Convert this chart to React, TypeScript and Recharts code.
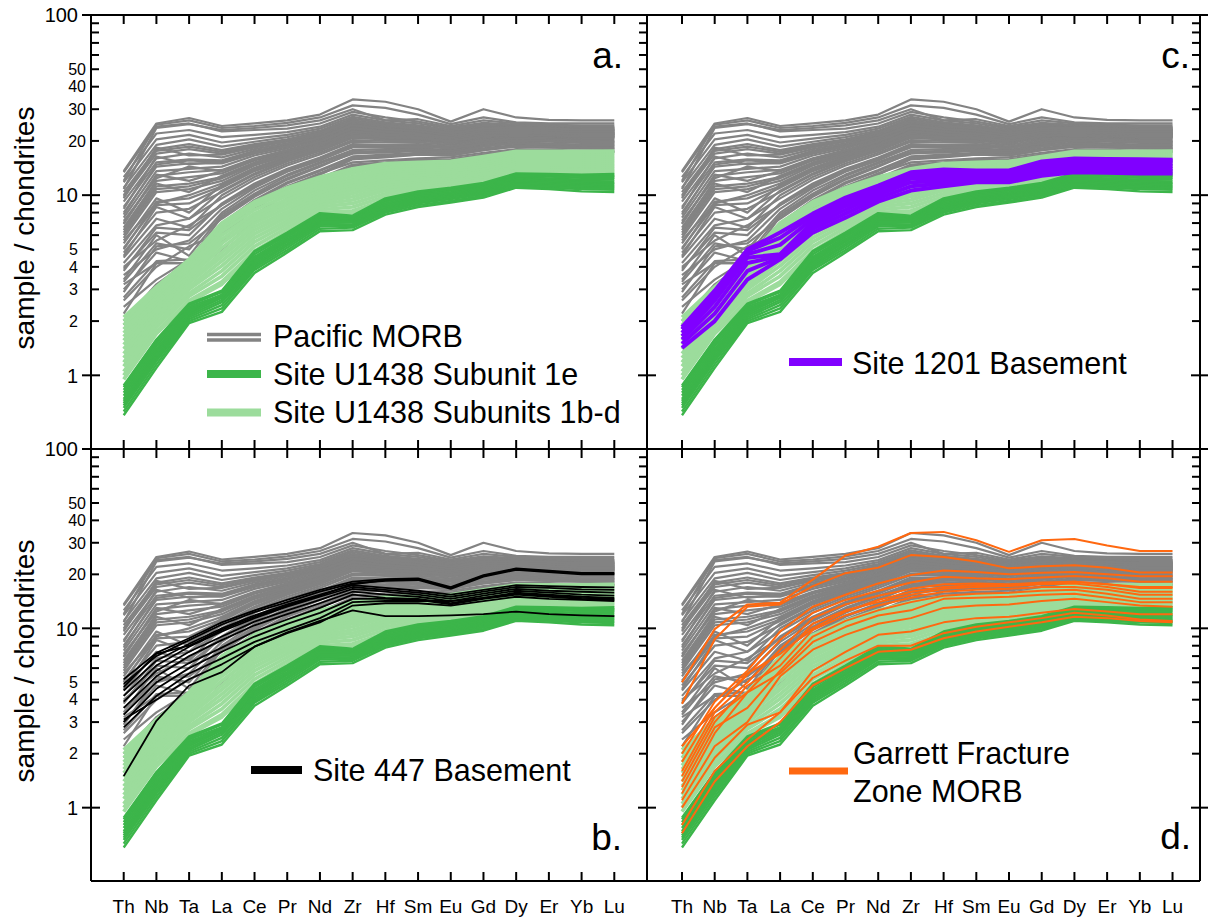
import React from 'react';
import { LineChart, Line, XAxis, YAxis } from 'recharts';

// Element order on the x axis (chondrite-normalised spider diagram)
const ELEMENTS = ['Th', 'Nb', 'Ta', 'La', 'Ce', 'Pr', 'Nd', 'Zr', 'Hf', 'Sm', 'Eu', 'Gd', 'Dy', 'Er', 'Yb', 'Lu'];
const X_TICKS = [1, 2, 3, 4, 5, 6, 7, 8, 9, 10, 11, 12, 13, 14, 15, 16];
const Y_TICKS = [1, 2, 3, 4, 5, 6, 7, 8, 9, 10, 20, 30, 40, 50, 60, 70, 80, 90, 100];
const Y_LABELS = [1, 2, 3, 4, 5, 10, 20, 30, 40, 50, 100];
const Y_MAJOR = [1, 10, 100];
const Y_DOMAIN: [number, number] = [0.39, 100];

// Pacific MORB (sample / chondrite), one row per sample, columns follow ELEMENTS
const PACIFIC_MORB: number[][] = [
  [1.9, 3.0, 3.6, 5.0, 7.2, 9.6, 12.0, 14.5, 15.0, 15.6, 15.8, 16.8, 17.6, 17.5, 17.4, 17.4],
  [2.2, 4.2, 4.2, 6.6, 9.0, 11.2, 13.2, 15.2, 15.6, 16.0, 16.2, 17.2, 18.0, 17.9, 17.6, 17.6],
  [2.4, 3.4, 4.4, 6.0, 8.4, 10.8, 13.0, 15.8, 16.2, 16.8, 16.6, 17.8, 18.6, 18.4, 18.2, 18.0],
  [2.7, 4.3, 4.4, 7.0, 9.4, 11.8, 13.8, 16.4, 16.8, 17.2, 17.0, 18.2, 19.0, 18.8, 18.6, 18.5],
  [3.0, 4.8, 4.3, 7.6, 10.0, 12.4, 14.6, 17.0, 17.4, 17.8, 17.4, 18.8, 19.5, 19.2, 19.0, 18.9],
  [3.3, 5.4, 5.0, 8.0, 10.6, 13.0, 15.2, 17.8, 18.0, 18.2, 17.8, 19.2, 20.0, 19.8, 19.5, 19.3],
  [3.6, 5.0, 5.6, 8.4, 11.0, 13.5, 15.6, 18.6, 18.6, 18.8, 18.4, 19.6, 20.4, 20.2, 19.8, 19.7],
  [3.9, 6.2, 6.0, 9.0, 11.6, 14.0, 16.2, 19.2, 19.0, 19.2, 18.6, 20.0, 20.6, 20.4, 20.0, 20.0],
  [4.2, 6.8, 7.4, 9.6, 12.2, 14.6, 16.8, 19.8, 19.6, 19.6, 19.0, 20.4, 21.0, 20.8, 20.4, 20.3],
  [4.5, 7.4, 6.6, 10.0, 12.6, 15.0, 17.2, 20.2, 20.0, 20.0, 19.4, 20.8, 21.2, 21.0, 20.6, 20.6],
  [4.8, 8.0, 8.4, 10.4, 13.0, 15.4, 17.6, 20.8, 20.4, 20.4, 19.6, 21.0, 21.4, 21.2, 20.8, 20.8],
  [5.1, 8.8, 9.0, 11.0, 13.6, 15.8, 18.0, 21.2, 20.8, 20.6, 19.8, 21.2, 21.6, 21.4, 21.0, 21.0],
  [5.4, 9.6, 8.0, 11.4, 14.0, 16.2, 18.4, 21.8, 21.2, 21.0, 20.2, 21.6, 21.8, 21.6, 21.2, 21.2],
  [5.8, 10.4, 10.8, 12.0, 14.6, 16.6, 18.8, 22.4, 21.6, 21.4, 20.4, 21.8, 22.0, 21.8, 21.4, 21.4],
  [6.2, 11.2, 11.6, 12.6, 15.0, 17.0, 19.2, 22.8, 22.0, 21.6, 20.6, 22.0, 22.2, 22.0, 21.6, 21.6],
  [6.6, 12.0, 12.6, 13.2, 15.6, 17.4, 19.6, 23.2, 22.2, 21.8, 20.8, 22.2, 22.4, 22.2, 21.8, 21.8],
  [7.0, 12.8, 13.4, 13.8, 16.0, 17.8, 20.0, 23.6, 22.6, 22.0, 21.0, 22.4, 22.6, 22.4, 22.0, 22.0],
  [7.5, 13.6, 14.0, 14.4, 16.6, 18.2, 20.4, 24.0, 22.8, 22.2, 21.2, 22.6, 22.8, 22.6, 22.2, 22.2],
  [8.0, 14.4, 15.0, 15.0, 17.0, 18.6, 20.8, 24.4, 23.2, 22.6, 21.4, 22.8, 23.0, 22.8, 22.4, 22.4],
  [8.6, 15.2, 15.8, 15.6, 17.6, 19.0, 21.2, 24.8, 23.4, 22.8, 21.6, 23.0, 23.2, 23.0, 22.6, 22.6],
  [9.2, 16.0, 17.0, 16.2, 18.0, 19.4, 21.6, 25.2, 23.8, 23.0, 21.8, 23.2, 23.4, 23.2, 22.8, 22.8],
  [9.8, 17.0, 18.0, 17.0, 18.6, 20.0, 22.0, 25.6, 24.2, 23.2, 22.0, 23.4, 23.6, 23.4, 23.0, 23.0],
  [10.4, 18.0, 19.2, 17.8, 19.2, 20.4, 22.4, 26.0, 24.6, 23.6, 22.2, 23.6, 23.8, 23.6, 23.2, 23.2],
  [11.0, 19.0, 20.4, 18.6, 19.8, 21.0, 22.8, 26.6, 25.0, 24.0, 22.6, 24.0, 24.0, 23.8, 23.4, 23.4],
  [11.8, 20.4, 21.6, 19.6, 20.6, 21.6, 23.4, 27.2, 25.4, 24.4, 23.0, 24.4, 24.2, 24.0, 23.6, 23.6],
  [12.6, 22.0, 23.0, 21.0, 21.6, 22.4, 24.0, 28.0, 26.0, 25.0, 23.4, 24.8, 24.4, 24.2, 23.8, 23.8],
  [13.4, 24.0, 25.0, 22.6, 23.0, 23.4, 25.0, 29.0, 27.0, 25.6, 23.8, 25.2, 24.6, 24.4, 24.0, 24.0],
  [13.6, 25.0, 26.8, 24.2, 25.0, 26.0, 28.0, 34.0, 33.0, 30.0, 25.6, 30.0, 27.0, 26.2, 26.0, 26.0],
  [12.0, 24.6, 26.0, 23.6, 24.2, 25.2, 27.0, 31.5, 30.5, 28.0, 24.8, 27.0, 25.4, 25.0, 25.0, 25.0],
  [10.8, 23.6, 24.8, 23.0, 23.6, 24.4, 26.0, 30.0, 26.0, 26.4, 24.2, 26.0, 25.0, 24.6, 24.4, 24.4],
  [2.6, 4.0, 5.2, 6.2, 8.8, 11.0, 13.2, 16.0, 16.4, 16.8, 16.6, 17.8, 18.6, 18.4, 18.2, 18.2],
  [3.4, 6.0, 4.6, 7.8, 10.2, 12.8, 15.0, 17.4, 17.6, 18.0, 17.6, 18.8, 19.6, 19.4, 19.0, 19.0],
  [4.0, 5.6, 6.8, 8.8, 11.4, 13.8, 16.0, 18.8, 18.8, 19.0, 18.6, 19.8, 20.6, 20.4, 20.0, 19.9],
  [4.6, 8.6, 7.4, 10.6, 13.2, 15.6, 17.8, 21.0, 20.6, 20.6, 19.8, 21.2, 21.6, 21.4, 21.0, 21.0],
  [5.6, 9.0, 10.0, 11.6, 14.2, 16.4, 18.6, 22.0, 21.4, 21.2, 20.4, 21.8, 22.0, 21.8, 21.4, 21.4],
  [6.4, 11.6, 10.4, 12.8, 15.2, 17.2, 19.4, 22.6, 22.0, 21.8, 20.8, 22.2, 22.4, 22.2, 21.8, 21.8],
  [7.2, 12.4, 14.4, 13.6, 15.8, 17.6, 19.8, 23.4, 22.4, 22.0, 21.0, 22.4, 22.6, 22.4, 22.0, 22.0],
  [8.4, 16.4, 14.8, 15.4, 17.4, 18.8, 21.0, 24.6, 23.2, 22.6, 21.4, 22.8, 23.0, 22.8, 22.4, 22.4],
  [9.6, 18.4, 16.6, 16.8, 18.4, 19.8, 21.8, 25.4, 24.0, 23.2, 22.0, 23.4, 23.6, 23.4, 23.0, 23.0],
  [2.0, 3.2, 4.3, 5.6, 7.8, 10.2, 12.4, 14.8, 15.2, 15.8, 15.6, 16.8, 17.6, 17.5, 17.4, 17.4],
  [2.9, 5.2, 5.4, 7.4, 9.8, 12.2, 14.4, 17.2, 17.2, 17.6, 17.2, 18.6, 19.4, 19.1, 18.8, 18.8],
  [3.8, 6.6, 6.4, 8.8, 11.2, 13.6, 15.8, 18.4, 18.4, 18.6, 18.2, 19.4, 20.2, 20.0, 19.6, 19.5],
  [5.0, 9.2, 9.6, 11.2, 13.8, 16.0, 18.2, 21.4, 21.0, 20.8, 20.0, 21.4, 21.7, 21.5, 21.1, 21.1],
  [6.0, 10.8, 11.2, 12.4, 14.8, 16.8, 19.0, 22.6, 21.8, 21.5, 20.5, 21.9, 22.1, 21.9, 21.5, 21.5],
  [6.9, 13.0, 12.0, 13.6, 15.9, 17.7, 19.9, 23.5, 22.5, 21.9, 20.9, 22.3, 22.5, 22.3, 21.9, 21.9],
  [7.8, 14.8, 15.6, 15.2, 17.2, 18.7, 20.9, 24.5, 23.3, 22.7, 21.5, 22.9, 23.1, 22.9, 22.5, 22.5],
  [10.0, 17.6, 18.6, 17.4, 18.9, 20.2, 22.2, 25.8, 24.4, 23.4, 22.1, 23.5, 23.7, 23.5, 23.1, 23.1],
  [3.2, 4.2, 4.2, 6.4, 9.2, 11.6, 13.6, 16.2, 16.6, 17.0, 16.8, 18.0, 18.8, 18.6, 18.4, 18.3],
];

// Site U1438 Subunits 1b-d
const U1438_SUBUNITS_1BD: number[][] = [
  [1.00, 1.75, 2.60, 3.30, 4.90, 6.30, 8.00, 8.20, 9.40, 10.3, 10.8, 11.5, 12.9, 12.9, 12.7, 12.7],
  [1.05, 1.85, 2.75, 3.55, 5.20, 6.60, 8.30, 8.60, 9.80, 10.6, 11.1, 11.8, 13.2, 13.2, 13.0, 13.0],
  [1.12, 1.95, 2.85, 3.80, 5.50, 6.90, 8.60, 9.00, 10.2, 10.9, 11.4, 12.1, 13.5, 13.5, 13.3, 13.4],
  [1.18, 2.05, 3.00, 4.05, 5.80, 7.20, 8.90, 9.40, 10.6, 11.3, 11.7, 12.4, 13.8, 13.8, 13.6, 13.7],
  [1.25, 2.10, 3.10, 4.30, 6.10, 7.50, 9.20, 9.80, 11.0, 11.6, 12.0, 12.7, 14.1, 14.1, 14.0, 14.0],
  [1.32, 2.20, 3.25, 4.55, 6.40, 7.80, 9.50, 10.2, 11.4, 12.0, 12.3, 13.0, 14.4, 14.4, 14.3, 14.4],
  [1.40, 2.30, 3.35, 4.80, 6.70, 8.10, 9.80, 10.6, 11.8, 12.3, 12.6, 13.3, 14.7, 14.7, 14.6, 14.7],
  [1.48, 2.40, 3.50, 5.10, 7.00, 8.45, 10.1, 11.0, 12.2, 12.7, 12.9, 13.7, 15.0, 15.0, 15.0, 15.1],
  [1.56, 2.50, 3.60, 5.40, 7.30, 8.80, 10.4, 11.4, 12.6, 13.0, 13.3, 14.1, 15.4, 15.4, 15.4, 15.5],
  [1.64, 2.60, 3.75, 5.70, 7.60, 9.15, 10.8, 11.8, 13.0, 13.4, 13.6, 14.5, 15.8, 15.8, 15.8, 15.9],
  [1.72, 2.70, 3.90, 6.00, 7.90, 9.50, 11.1, 12.2, 13.4, 13.8, 14.0, 14.9, 16.2, 16.2, 16.2, 16.3],
  [1.80, 2.80, 4.00, 6.30, 8.30, 9.90, 11.5, 12.7, 13.8, 14.2, 14.4, 15.3, 16.6, 16.6, 16.6, 16.7],
  [1.90, 2.90, 4.15, 6.60, 8.70, 10.3, 11.9, 13.2, 14.3, 14.6, 14.8, 15.8, 17.0, 17.0, 17.0, 17.1],
  [2.00, 3.00, 4.30, 6.80, 9.00, 10.7, 12.3, 13.6, 14.7, 15.0, 15.2, 16.1, 17.3, 17.3, 17.3, 17.4],
  [2.10, 3.10, 4.40, 7.00, 9.20, 11.0, 12.6, 14.0, 15.0, 15.2, 15.4, 16.4, 17.5, 17.5, 17.5, 17.6],
  [0.95, 1.70, 2.55, 3.20, 4.80, 6.10, 7.80, 8.00, 9.20, 10.1, 10.6, 11.3, 12.7, 12.7, 12.6, 12.6],
];

// Site U1438 Subunit 1e
const U1438_SUBUNIT_1E: number[][] = [
  [0.60, 1.10, 1.95, 2.25, 3.70, 4.80, 6.30, 6.40, 7.80, 8.60, 9.10, 9.70, 11.0, 10.8, 10.5, 10.4],
  [0.63, 1.15, 2.00, 2.35, 3.85, 4.95, 6.50, 6.60, 8.00, 8.80, 9.30, 9.90, 11.2, 11.0, 10.8, 10.7],
  [0.66, 1.20, 2.05, 2.45, 3.95, 5.10, 6.70, 6.75, 8.15, 9.00, 9.50, 10.1, 11.4, 11.2, 11.0, 10.9],
  [0.68, 1.24, 2.10, 2.55, 4.05, 5.25, 6.85, 6.90, 8.30, 9.15, 9.65, 10.3, 11.6, 11.4, 11.2, 11.1],
  [0.70, 1.28, 2.15, 2.62, 4.15, 5.35, 7.00, 7.05, 8.45, 9.30, 9.80, 10.45, 11.8, 11.6, 11.4, 11.3],
  [0.72, 1.32, 2.20, 2.70, 4.25, 5.50, 7.15, 7.15, 8.60, 9.45, 9.95, 10.6, 12.0, 11.8, 11.6, 11.5],
  [0.74, 1.36, 2.25, 2.75, 4.35, 5.60, 7.25, 7.25, 8.70, 9.60, 10.1, 10.75, 12.2, 12.0, 11.8, 11.7],
  [0.77, 1.40, 2.30, 2.80, 4.45, 5.70, 7.40, 7.35, 8.85, 9.75, 10.25, 10.9, 12.4, 12.2, 12.0, 11.9],
  [0.80, 1.45, 2.35, 2.70, 4.55, 5.85, 7.55, 7.45, 9.00, 9.90, 10.4, 11.1, 12.6, 12.4, 12.2, 12.2],
  [0.83, 1.50, 2.40, 2.80, 4.70, 6.00, 7.70, 7.55, 9.20, 10.1, 10.6, 11.3, 12.8, 12.7, 12.5, 12.5],
  [0.86, 1.55, 2.45, 2.90, 4.85, 6.10, 7.85, 7.60, 9.40, 10.3, 10.8, 11.5, 13.0, 12.9, 12.8, 12.8],
  [0.88, 1.58, 2.50, 2.95, 4.90, 6.20, 7.95, 7.70, 9.60, 10.5, 11.0, 11.7, 13.2, 13.1, 13.0, 13.1],
];

// Site 1201 Basement
const SITE_1201: number[][] = [
  [1.42, 2.00, 3.40, 4.40, 6.20, 7.50, 9.20, 10.6, 11.2, 11.8, 11.8, 12.8, 13.4, 13.3, 13.2, 13.2],
  [1.50, 2.20, 3.80, 4.50, 6.50, 7.90, 9.60, 11.2, 11.6, 12.2, 12.2, 13.2, 13.8, 13.8, 13.7, 13.6],
  [1.58, 2.40, 4.20, 4.60, 6.80, 8.30, 10.0, 11.8, 12.0, 12.5, 12.6, 13.6, 14.3, 14.2, 14.1, 14.0],
  [1.65, 2.60, 4.50, 4.70, 7.10, 8.70, 10.4, 12.4, 12.4, 12.8, 12.9, 14.1, 14.8, 14.7, 14.6, 14.5],
  [1.72, 2.75, 4.70, 5.30, 7.40, 9.10, 10.8, 12.8, 12.9, 13.1, 13.2, 14.6, 15.3, 15.2, 15.1, 15.0],
  [1.80, 2.90, 4.90, 5.80, 7.70, 9.50, 11.1, 13.2, 13.4, 13.5, 13.5, 15.1, 15.8, 15.7, 15.6, 15.5],
  [1.85, 2.95, 5.00, 6.20, 7.90, 9.70, 11.3, 13.4, 13.9, 13.7, 13.7, 15.4, 16.0, 15.9, 15.8, 15.7],
];

// Site 447 Basement
const SITE_447: number[][] = [
  [5.2, 7.3, 8.8, 10.8, 12.6, 14.4, 16.4, 18.2, 18.8, 19.0, 17.0, 19.8, 21.6, 21.0, 20.4, 20.4],
  [4.9, 7.0, 8.6, 10.5, 12.3, 14.0, 16.0, 17.8, 18.4, 18.6, 16.6, 19.4, 21.2, 20.6, 20.0, 20.0],
  [4.5, 6.6, 8.2, 10.0, 11.8, 13.6, 15.4, 17.4, 16.8, 16.2, 15.4, 16.4, 17.4, 17.2, 17.0, 16.9],
  [4.2, 6.2, 7.9, 9.6, 11.4, 13.2, 15.0, 17.0, 16.4, 15.8, 15.0, 16.0, 17.0, 16.8, 16.5, 16.4],
  [3.9, 5.8, 7.4, 9.0, 10.9, 12.6, 14.4, 16.6, 16.0, 15.4, 14.6, 15.6, 16.6, 16.2, 16.0, 15.8],
  [3.6, 5.4, 7.0, 8.6, 10.4, 12.0, 13.8, 16.0, 15.4, 15.0, 14.2, 15.2, 16.2, 15.8, 15.4, 15.2],
  [3.3, 5.0, 6.4, 7.8, 9.6, 11.2, 13.0, 15.4, 14.8, 14.6, 13.8, 14.8, 15.6, 15.2, 14.8, 14.6],
  [3.0, 4.6, 6.0, 7.4, 9.0, 10.6, 12.2, 14.6, 14.6, 14.4, 13.6, 14.6, 15.4, 15.0, 14.6, 14.4],
  [2.8, 4.2, 5.6, 6.8, 8.4, 9.8, 11.4, 14.0, 14.2, 14.2, 14.2, 14.8, 15.8, 15.4, 15.0, 14.8],
  [3.1, 4.0, 5.2, 6.3, 7.9, 9.4, 10.8, 13.4, 13.8, 13.8, 13.4, 14.2, 15.0, 14.6, 14.4, 14.2],
  [1.5, 3.05, 4.8, 5.7, 7.9, 9.5, 11.0, 12.6, 11.7, 11.7, 11.8, 12.0, 12.4, 12.0, 11.8, 11.7],
  [4.7, 7.2, 8.0, 9.8, 11.6, 13.4, 15.2, 17.6, 18.6, 18.8, 16.8, 19.6, 21.4, 20.8, 20.2, 20.2],
];

// Garrett Fracture Zone MORB
const GARRETT_FZ: number[][] = [
  [5.0, 9.9, 13.6, 13.9, 18.7, 25.5, 28.5, 34.0, 34.5, 31.0, 26.7, 31.0, 31.5, 29.0, 27.0, 27.0],
  [3.8, 8.7, 13.2, 13.6, 17.2, 20.3, 21.8, 25.6, 25.0, 23.6, 21.6, 22.2, 22.5, 21.8, 20.5, 20.5],
  [2.0, 3.9, 5.8, 9.6, 13.2, 15.4, 17.8, 19.8, 21.0, 20.6, 20.0, 20.4, 20.6, 20.0, 19.5, 19.5],
  [1.8, 3.6, 5.5, 8.6, 12.2, 14.4, 16.2, 18.0, 19.4, 19.0, 18.8, 19.2, 19.6, 19.0, 18.2, 18.2],
  [1.6, 3.4, 5.0, 7.6, 11.4, 13.6, 15.2, 16.6, 17.6, 17.8, 17.6, 18.0, 18.2, 17.6, 16.8, 16.8],
  [1.5, 3.2, 4.4, 6.8, 10.6, 12.6, 14.0, 15.4, 16.6, 17.0, 17.2, 17.6, 17.8, 17.0, 16.0, 16.0],
  [1.4, 3.0, 4.8, 6.2, 9.8, 11.8, 13.4, 14.8, 16.0, 16.4, 16.6, 17.0, 17.0, 16.4, 15.4, 15.4],
  [1.3, 2.8, 3.6, 5.8, 9.0, 11.0, 12.6, 14.0, 15.2, 15.6, 15.8, 16.2, 16.4, 15.6, 14.6, 14.6],
  [1.2, 2.6, 4.4, 5.6, 8.4, 10.2, 11.8, 12.6, 14.6, 14.8, 15.0, 15.4, 15.6, 14.8, 14.0, 14.0],
  [1.1, 2.2, 3.0, 5.4, 7.6, 9.2, 10.6, 11.4, 13.0, 13.4, 13.6, 14.2, 14.6, 14.0, 13.4, 13.2],
  [1.0, 1.9, 2.9, 3.4, 5.8, 7.4, 9.2, 9.6, 10.8, 11.4, 11.6, 12.2, 12.8, 12.4, 12.0, 12.0],
  [0.8, 1.6, 2.4, 3.4, 5.3, 6.6, 8.0, 8.0, 9.4, 10.2, 10.8, 11.4, 12.2, 11.8, 11.2, 11.0],
  [0.72, 1.4, 2.2, 3.0, 4.8, 6.0, 7.4, 7.6, 8.8, 9.6, 10.2, 10.8, 11.6, 11.4, 11.0, 10.8],
  [2.2, 3.6, 5.6, 7.2, 10.0, 12.4, 14.4, 16.0, 17.0, 17.4, 17.4, 17.8, 18.2, 17.6, 17.0, 17.0],
];

const FONT = "'Liberation Sans', Arial, Helvetica, sans-serif";
const GRAY = '#838383';
const GREEN = '#3cb54a';
const LIGHT_GREEN = '#9cdc9c';
const PURPLE = '#8000ff';
const BLACK = '#000000';
const ORANGE = '#ff6810';

type Group = { key: string; lines: number[][]; color: string; width: number };

const BASE_GROUPS: Group[] = [
  { key: 'morb', lines: PACIFIC_MORB, color: GRAY, width: 2.2 },
  { key: 'u1bd', lines: U1438_SUBUNITS_1BD, color: LIGHT_GREEN, width: 3.6 },
  { key: 'u1e', lines: U1438_SUBUNIT_1E, color: GREEN, width: 2.4 },
];

function buildRows(groups: Group[]) {
  return ELEMENTS.map((el, k) => {
    const row: Record<string, number | string> = { i: k + 1, el };
    groups.forEach((g) => g.lines.forEach((ln, j) => { row[`${g.key}_${j}`] = ln[k]; }));
    return row;
  });
}

const renderXTick = (side: 'top' | 'bottom', showLabels: boolean) => (p: any) => {
  const { x, y, payload } = p;
  const dy = side === 'bottom' ? -9 : 9;
  return (
    <g>
      <line x1={x} x2={x} y1={y} y2={y + dy} stroke="#000" strokeWidth={2} />
      {showLabels && side === 'bottom' && (
        <text x={x} y={y + 32} textAnchor="middle" fontSize={19} fontFamily={FONT} fill="#000">
          {ELEMENTS[payload.value - 1]}
        </text>
      )}
    </g>
  );
};

const renderYTick = (side: 'left' | 'right', showLabels: boolean) => (p: any) => {
  const { x, y, payload } = p;
  const v = payload.value as number;
  const major = Y_MAJOR.includes(v);
  const dir = side === 'left' ? 1 : -1;
  const wide = v >= 20 && v <= 50;
  return (
    <g>
      <line x1={x} x2={x + dir * (major ? 9 : 8)} y1={y} y2={y} stroke="#000" strokeWidth={2} />
      {major && <line x1={x} x2={x - dir * 9} y1={y} y2={y} stroke="#000" strokeWidth={2} />}
      {showLabels && Y_LABELS.includes(v) && (
        <text x={x - (wide ? 5 : 13)} y={y} dy="0.36em" textAnchor="end" fontSize={major ? 20 : 16}
          fontFamily={FONT} fill="#000">
          {v}
        </text>
      )}
    </g>
  );
};

type PanelProps = {
  left: number; top: number; width: number; height: number;
  leftW: number; rightW: number; topH: number; bottomH: number;
  xDomain: [number, number];
  groups: Group[];
  yLabels: boolean;
  xLabels: boolean;
  leftTicks: boolean;
};

function Panel(props: PanelProps) {
  const { left, top, width, height, leftW, rightW, topH, bottomH, xDomain, groups, yLabels, xLabels, leftTicks } = props;
  const data = buildRows(groups);
  const axisLine = { stroke: '#000', strokeWidth: 2 };
  return (
    <div style={{ position: 'absolute', left, top }}>
      <LineChart width={width} height={height} data={data} margin={{ top: 0, right: 0, bottom: 0, left: 0 }}>
        <XAxis xAxisId="b" dataKey="i" type="number" orientation="bottom" domain={xDomain} allowDataOverflow
          ticks={X_TICKS} interval={0} height={bottomH} tickSize={0} tickMargin={0} tickLine={false}
          axisLine={axisLine} tick={renderXTick('bottom', xLabels)} />
        <XAxis xAxisId="t" dataKey="i" type="number" orientation="top" domain={xDomain} allowDataOverflow
          ticks={X_TICKS} interval={0} height={topH} tickSize={0} tickMargin={0} tickLine={false}
          axisLine={axisLine} tick={renderXTick('top', false)} />
        <YAxis yAxisId="l" type="number" scale="log" orientation="left" domain={Y_DOMAIN} allowDataOverflow
          ticks={Y_TICKS} interval={0} width={leftW} tickSize={0} tickMargin={0} tickLine={false}
          axisLine={axisLine} tick={leftTicks ? renderYTick('left', yLabels) : false} />
        <YAxis yAxisId="r" type="number" scale="log" orientation="right" domain={Y_DOMAIN} allowDataOverflow
          ticks={Y_TICKS} interval={0} width={rightW} tickSize={0} tickMargin={0} tickLine={false}
          axisLine={axisLine} tick={renderYTick('right', false)} />
        {groups.flatMap((g) =>
          g.lines.map((_, j) => (
            <Line key={`${g.key}_${j}`} xAxisId="b" yAxisId="l" dataKey={`${g.key}_${j}`} type="linear"
              stroke={g.color} strokeWidth={g.width} dot={false} activeDot={false}
              strokeLinejoin="round" isAnimationActive={false} />
          ))
        )}
      </LineChart>
    </div>
  );
}

const LEFT_X: [number, number] = [0, 17];
const RIGHT_X: [number, number] = [-0.07, 16.84];

export default function App() {
  const legendText = { fontSize: 30.5, fontFamily: FONT, fill: '#000' } as const;
  return (
    <div style={{ position: 'absolute', left: 0, top: 0, width: 1208, height: 917, background: '#fff', overflow: 'hidden' }}>
      <Panel left={0} top={0} width={680} height={460} leftW={91} rightW={33} topH={15} bottomH={11}
        xDomain={LEFT_X} groups={BASE_GROUPS} yLabels xLabels={false} leftTicks />
      <Panel left={600} top={0} width={608} height={460} leftW={47} rightW={8} topH={15} bottomH={11}
        xDomain={RIGHT_X} groups={[...BASE_GROUPS, { key: 's1201', lines: SITE_1201, color: PURPLE, width: 4 }]}
        yLabels={false} xLabels={false} leftTicks={false} />
      <Panel left={0} top={430} width={680} height={487} leftW={91} rightW={33} topH={19} bottomH={36}
        xDomain={LEFT_X} groups={[...BASE_GROUPS, { key: 's447', lines: SITE_447, color: BLACK, width: 1.8 }]}
        yLabels xLabels leftTicks />
      <Panel left={600} top={430} width={608} height={487} leftW={47} rightW={8} topH={19} bottomH={36}
        xDomain={RIGHT_X} groups={[...BASE_GROUPS, { key: 'gfz', lines: GARRETT_FZ, color: ORANGE, width: 2 }]}
        yLabels={false} xLabels leftTicks={false} />

      <svg width={1208} height={917} style={{ position: 'absolute', left: 0, top: 0, pointerEvents: 'none' }}>
        <text transform="translate(33.5,228) rotate(-90)" textAnchor="middle" fontSize={28} fontFamily={FONT} fill="#000">sample / chondrites</text>
        <text transform="translate(33.5,661) rotate(-90)" textAnchor="middle" fontSize={28} fontFamily={FONT} fill="#000">sample / chondrites</text>

        <text x={623} y={68} textAnchor="end" fontSize={37} fontFamily={FONT} fill="#000">a.</text>
        <text x={1190} y={68} textAnchor="end" fontSize={37} fontFamily={FONT} fill="#000">c.</text>
        <text x={622} y={850} textAnchor="end" fontSize={37} fontFamily={FONT} fill="#000">b.</text>
        <text x={1191} y={849} textAnchor="end" fontSize={37} fontFamily={FONT} fill="#000">d.</text>

        {/* legend, panel a */}
        <line x1={207} x2={261} y1={334.5} y2={334.5} stroke={GRAY} strokeWidth={3.5} />
        <line x1={207} x2={261} y1={340} y2={340} stroke={GRAY} strokeWidth={3.5} />
        <text x={273} y={347} {...legendText}>Pacific MORB</text>
        <line x1={207} x2={261} y1={374} y2={374} stroke={GREEN} strokeWidth={8} />
        <text x={273} y={385} {...legendText}>Site U1438 Subunit 1e</text>
        <line x1={207} x2={261} y1={412.5} y2={412.5} stroke={LIGHT_GREEN} strokeWidth={8} />
        <text x={273} y={423} {...legendText}>Site U1438 Subunits 1b-d</text>

        {/* legend, panel c */}
        <line x1={789} x2={842} y1={362} y2={362} stroke={PURPLE} strokeWidth={8} />
        <text x={852} y={374} {...legendText}>Site 1201 Basement</text>

        {/* legend, panel b */}
        <line x1={251} x2={302} y1={770} y2={770} stroke={BLACK} strokeWidth={8} />
        <text x={313} y={781} {...legendText}>Site 447 Basement</text>

        {/* legend, panel d */}
        <line x1={789} x2={848} y1={771} y2={771} stroke={ORANGE} strokeWidth={7} />
        <text x={853} y={764} {...legendText}>Garrett Fracture</text>
        <text x={853} y={802} {...legendText}>Zone MORB</text>
      </svg>
    </div>
  );
}
